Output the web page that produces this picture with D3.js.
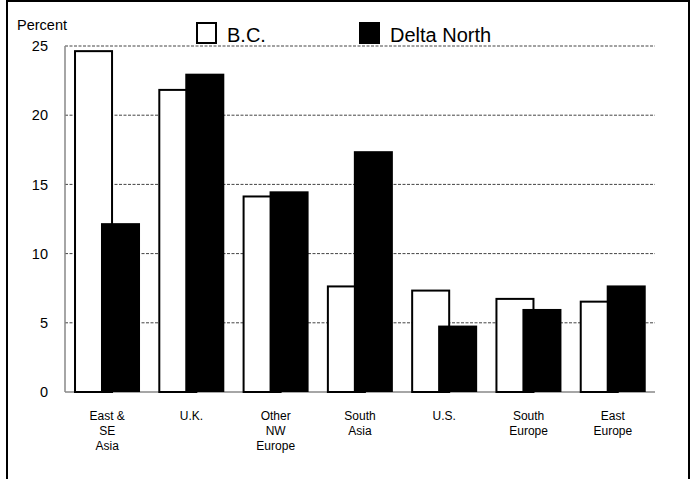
<!DOCTYPE html>
<html>
<head>
<meta charset="utf-8">
<script src="https://cdn.jsdelivr.net/npm/d3@7"></script>
<style>
  body { margin: 0; background: #fff; }
  svg { display: block; font-family: Arial, "Liberation Sans", sans-serif; }
</style>
</head>
<body>
<div id="chart"></div>
<script>
// ── Birthplace share: B.C. vs Delta North ─────────────────────
const categories = [["East &","SE","Asia"], ["U.K."], ["Other","NW","Europe"],
                    ["South","Asia"], ["U.S."], ["South","Europe"], ["East","Europe"]];
const bcValues    = [24.7, 21.9, 14.2, 7.7, 7.4, 6.8, 6.6];
const deltaValues = [12.2, 23.0, 14.5, 17.4, 4.8, 6.0, 7.7];
const yTicks      = [0, 5, 10, 15, 20, 25];

const width = 694, height = 479;
const svg = d3.select("#chart").append("svg")
    .attr("width", width).attr("height", height);

// outer frame
svg.append("rect").attr("x", 7).attr("y", 1)
    .attr("width", 682).attr("height", 495)
    .attr("fill", "none").attr("stroke", "#000").attr("stroke-width", 2);

const plotL = 65, plotR = 655, plotT = 46, plotB = 392;
const keys = categories.map(c => c.join(" "));

const x = d3.scaleBand().domain(keys).range([plotL, plotR]).padding(0);
const y = d3.scaleLinear().domain([0, 25]).range([plotB, plotT]);
const bw = x.bandwidth();
const barW = bw * 0.463;

// gridlines
svg.append("g").selectAll("line")
    .data(yTicks.filter(t => t > 0)).join("line")
    .attr("x1", plotL).attr("x2", plotR)
    .attr("y1", d => y(d)).attr("y2", d => y(d))
    .attr("stroke", "#444").attr("stroke-width", 1)
    .attr("stroke-dasharray", "3,1.5");

// axis lines
svg.append("line").attr("x1", plotL).attr("x2", plotL)
    .attr("y1", plotT).attr("y2", plotB)
    .attr("stroke", "#888").attr("stroke-width", 1.5);
svg.append("line").attr("x1", plotL).attr("x2", plotR)
    .attr("y1", plotB).attr("y2", plotB)
    .attr("stroke", "#888").attr("stroke-width", 1.5);

// y tick labels
svg.append("g").selectAll("text")
    .data(yTicks).join("text")
    .attr("x", 48).attr("y", d => y(d)).attr("dy", "0.36em")
    .attr("text-anchor", "end")
    .style("font-size", "14.5px").style("fill", "#000")
    .text(d => d);

svg.append("text").attr("x", 17).attr("y", 30)
    .style("font-size", "14.5px").text("Percent");

// bars: B.C. (white) then Delta North (black) overlapping
svg.append("g").selectAll("rect")
    .data(bcValues).join("rect")
    .attr("x", (d, i) => x(keys[i]) + bw * 0.107 + 1)
    .attr("y", d => y(d) + 1)
    .attr("width", barW - 2)
    .attr("height", d => plotB - y(d) - 1)
    .attr("fill", "#fff").attr("stroke", "#000").attr("stroke-width", 2);

svg.append("g").selectAll("rect")
    .data(deltaValues).join("rect")
    .attr("x", (d, i) => x(keys[i]) + bw * 0.427)
    .attr("y", d => y(d))
    .attr("width", barW)
    .attr("height", d => plotB - y(d))
    .attr("fill", "#000");

// category labels
const lab = svg.append("g").selectAll("text")
    .data(categories).join("text")
    .attr("text-anchor", "middle")
    .style("font-size", "12px").style("fill", "#000");
lab.each(function(lines, i) {
    d3.select(this).selectAll("tspan").data(lines).join("tspan")
        .attr("x", x(keys[i]) + bw / 2)
        .attr("y", (d, j) => 420 + j * 15)
        .text(d => d);
});

// legend
const legend = [{name: "B.C.", fill: "#fff", x: 197}, {name: "Delta North", fill: "#000", x: 360}];
legend.forEach(l => {
    svg.append("rect").attr("x", l.x).attr("y", 23).attr("width", 19).attr("height", 20)
        .attr("fill", l.fill).attr("stroke", "#000").attr("stroke-width", 2);
    svg.append("text").attr("x", l.x + 30).attr("y", 42)
        .style("font-size", "20px").text(l.name);
});
</script>
</body>
</html>
